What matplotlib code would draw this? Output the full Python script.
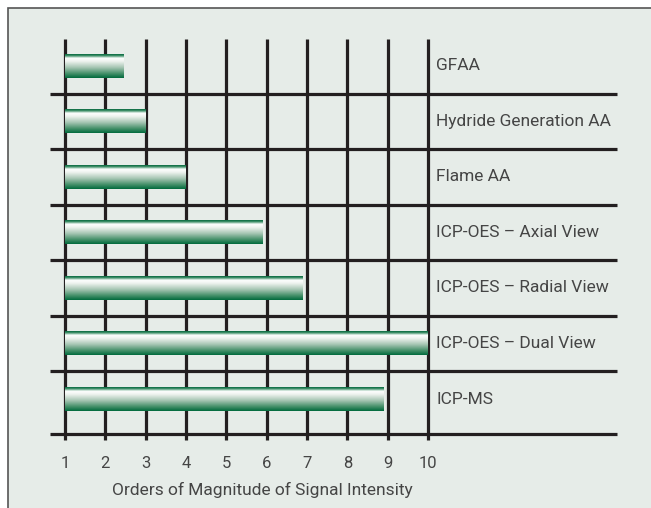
import numpy as np
import matplotlib
matplotlib.use("Agg")
import matplotlib.pyplot as plt
from matplotlib.colors import LinearSegmentedColormap
from matplotlib.patches import Rectangle

techniques = ["GFAA", "Hydride Generation AA", "Flame AA",
              "ICP-OES \u2013 Axial View", "ICP-OES \u2013 Radial View",
              "ICP-OES \u2013 Dual View", "ICP-MS"]
magnitudes = [2.45, 3.0, 4.0, 5.9, 6.9, 10.0, 8.9]
tick_values = [1, 2, 3, 4, 5, 6, 7, 8, 9, 10]
xlabel = "Orders of Magnitude of Signal Intensity"

bg = "#e6ece8"
ink = "#231f20"
txt = "#454545"
plt.rcParams['font.family'] = ['Roboto', 'DejaVu Sans']

W, H = 651, 508
fig = plt.figure(figsize=(W / 100, H / 100), dpi=100)
fig.patch.set_facecolor("white")
fig.patches.append(Rectangle((8 / W, -0.1), 1.2, 1 - 8 / H + 0.1, transform=fig.transFigure,
                             facecolor=bg, edgecolor="#555555", linewidth=1.2, zorder=-10))

# pixel mapping: x=1 -> 65px, 40.33 px per unit; row i centre -> 66 + 55.5*i px
px_x, x0px = 40.33, 65
px_y, y0px = 55.5, 66
xlim = (0, 15)
ylim = (6.9, -0.7)
left = x0px + (xlim[0] - 1) * px_x
right = x0px + (xlim[1] - 1) * px_x
top = y0px + ylim[1] * px_y
bottom = y0px + ylim[0] * px_y
ax = fig.add_axes([left / W, 1 - bottom / H, (right - left) / W, (bottom - top) / H])
ax.set_xlim(*xlim)
ax.set_ylim(*ylim)
ax.axis("off")

ypos = np.arange(len(techniques))
lw = 2.3

# vertical grid lines with little ticks below the base line
vtop = (39 - y0px) / px_y
vbot = (440 - y0px) / px_y
ax.vlines(tick_values, vtop, vbot, color=ink, linewidth=lw, zorder=1)
# horizontal separators and base line
hx0 = 1 + (50 - x0px) / px_x
hx1 = 1 + (617 - x0px) / px_x
ax.hlines(ypos[:-1] + 0.5, hx0, hx1, color=ink, linewidth=lw, zorder=1)
base = (434 - y0px) / px_y
ax.hlines(base, hx0, hx1, color=ink, linewidth=lw, zorder=1)

# gradient bars
cmap = LinearSegmentedColormap.from_list("tube", [
    (0.0, "#06683f"), (0.07, "#3d8f66"), (0.17, "#ffffff"), (0.3, "#eef3ef"),
    (0.55, "#a9c7b5"), (0.8, "#4a936d"), (1.0, "#006a3c")])
grad = np.linspace(0, 1, 256).reshape(-1, 1)
bars = ax.barh(ypos, np.array(magnitudes) - 1, left=1, height=0.43,
               facecolor="none", edgecolor="none", zorder=2)
for b in bars:
    x_a, y_a = b.get_x(), b.get_y()
    ax.imshow(grad, cmap=cmap, aspect="auto", interpolation="bilinear",
              extent=[x_a, x_a + b.get_width(), y_a + b.get_height(), y_a], zorder=2)
ax.set_xlim(*xlim)
ax.set_ylim(*ylim)

# category labels
lab_x = 1 + (436 - x0px) / px_x
for y, name in zip(ypos, techniques):
    ax.text(lab_x, y, name, ha="left", va="center", fontsize=12.5, color=txt)

# tick labels and axis title
ty = (463 - y0px) / px_y
for v in tick_values:
    ax.text(v, ty, str(v), ha="center", va="center", fontsize=12, color=txt, clip_on=False)
ax.text(1 + (262 - x0px) / px_x, (490 - y0px) / px_y, xlabel, ha="center", va="center",
        fontsize=12.5, color=txt, clip_on=False)

fig.savefig("out.png", dpi=100, facecolor=fig.get_facecolor())
